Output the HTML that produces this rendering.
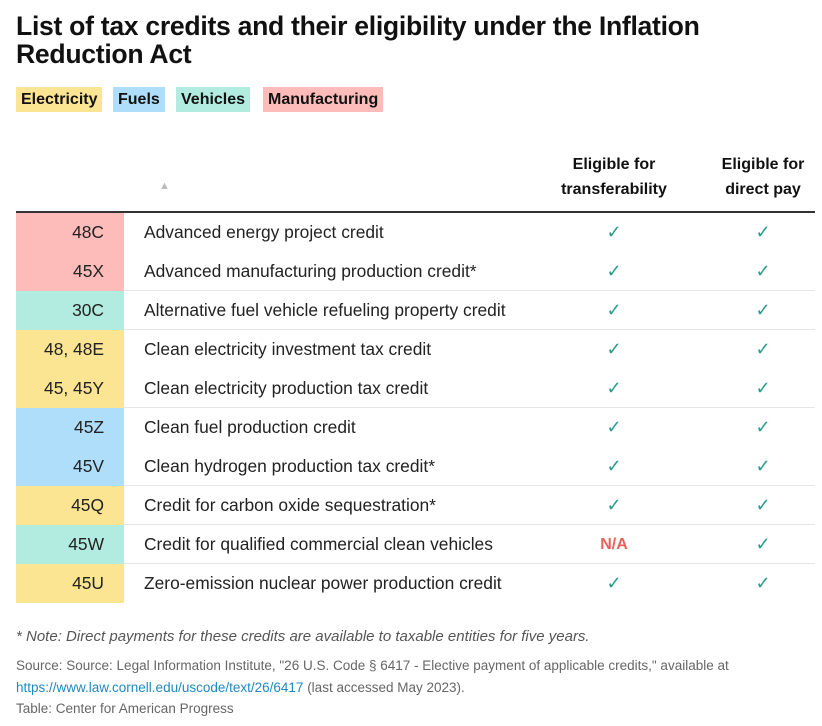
<!DOCTYPE html>
<html><head><meta charset="utf-8"><style>
body{margin:0;background:#fff;font-family:"Liberation Sans",sans-serif;color:#1a1a1a;width:822px;height:726px;overflow:hidden;position:relative}
.abs{position:absolute}
h1{position:absolute;left:16px;top:12px;margin:0;font-size:26.6px;line-height:28px;font-weight:bold;letter-spacing:-0.3px;color:#111}
.tag{position:absolute;top:87px;height:25px;line-height:25px;font-size:16px;font-weight:bold;padding:0 5px;color:#111}
.hd{position:absolute;font-size:16px;font-weight:bold;text-align:center;line-height:25px;color:#111}
.row{position:absolute;left:16px;width:799px;height:39px;font-size:17.4px}
.code{position:absolute;left:0;top:0;width:108px;height:39px;text-align:right;box-sizing:border-box;padding-right:20px;line-height:39px;color:#222}
.desc{position:absolute;left:128px;top:0;line-height:39px;color:#222}
.c1,.c2{position:absolute;top:0;line-height:39px;width:60px;text-align:center;color:#2a9d8f;font-size:18px}
.c1{left:568px}.c2{left:717px}
.na{color:#e8605a;font-weight:bold;font-size:16px}
.sep{position:absolute;left:124px;width:691px;height:1px;background:#e6e6e6}
.foot{position:absolute;left:16px;font-size:13.5px;color:#666}
</style></head><body>
<h1>List of tax credits and their eligibility under the Inflation<br>Reduction Act</h1>
<div class="tag" style="left:16px;background:#fbe592">Electricity</div>
<div class="tag" style="left:113px;background:#aedefa">Fuels</div>
<div class="tag" style="left:176px;background:#b2ece0">Vehicles</div>
<div class="tag" style="left:263px;background:#fdbcba">Manufacturing</div>
<div class="abs" style="left:159px;top:180px;color:#bbb;font-size:11px">▲</div>
<div class="hd" style="left:544px;top:152px;width:140px">Eligible for<br>transferability</div>
<div class="hd" style="left:708px;top:152px;width:110px">Eligible for<br>direct pay</div>
<div class="abs" style="left:16px;top:211px;width:799px;height:2px;background:#333"></div>
<div id="tbl"></div>
<div class="foot" style="top:628px;font-style:italic;font-size:15px;color:#555">* Note: Direct payments for these credits are available to taxable entities for five years.</div>
<div class="foot" style="top:655px;line-height:22px">Source: Source: Legal Information Institute, "26 U.S. Code § 6417 - Elective payment of applicable credits," available at<br><span style="color:#1f8ac0">https://www.law.cornell.edu/uscode/text/26/6417</span> (last accessed May 2023).</div>
<div class="foot" style="top:701px">Table: Center for American Progress</div>
<script>
const codes=["48C","45X","30C","48, 48E","45, 45Y","45Z","45V","45Q","45W","45U"];
const descs=["Advanced energy project credit","Advanced manufacturing production credit*","Alternative fuel vehicle refueling property credit","Clean electricity investment tax credit","Clean electricity production tax credit","Clean fuel production credit","Clean hydrogen production tax credit*","Credit for carbon oxide sequestration*","Credit for qualified commercial clean vehicles","Zero-emission nuclear power production credit"];
const cats=["m","m","v","e","e","f","f","e","v","e"];
const transfer=[1,1,1,1,1,1,1,1,0,1];
const direct=[1,1,1,1,1,1,1,1,1,1];
const colors={e:"#fbe592",f:"#aedefa",v:"#b2ece0",m:"#fdbcba"};
const tbl=document.getElementById('tbl');
codes.forEach((c,i)=>{
  const r=document.createElement('div');r.className='row';r.style.top=(213+i*39)+'px';
  
  
  r.innerHTML='<div class="code" style="background:'+colors[cats[i]]+'">'+c+'</div>'+
  '<div class="desc">'+descs[i]+'</div>'+
  '<div class="c1'+(transfer[i]?'':' na')+'">'+(transfer[i]?'✓':'N/A')+'</div>'+
  '<div class="c2">'+(direct[i]?'✓':'N/A')+'</div>';
  tbl.appendChild(r);
  if(i>0&&cats[i]!==cats[i-1]){
    const s=document.createElement('div');s.className='sep';s.style.top=(213+i*39-1)+'px';
    
    
    tbl.appendChild(s);
  }
});
</script>
</body></html>
